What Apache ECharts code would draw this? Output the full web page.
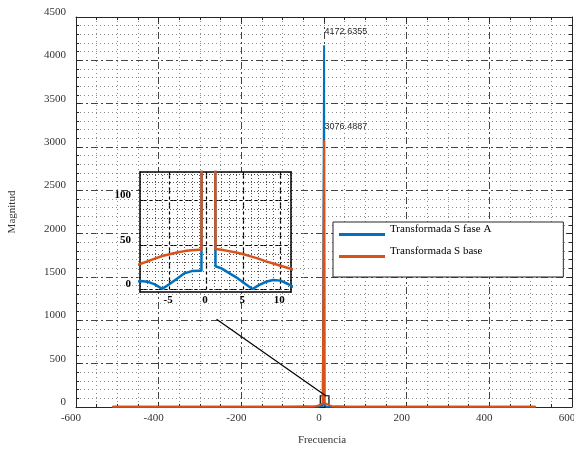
<!DOCTYPE html>
<html><head><meta charset="utf-8">
<script src="https://cdn.jsdelivr.net/npm/echarts@6/dist/echarts.min.js"></script>
<style>html,body{margin:0;padding:0;background:#fff}#c{width:574px;height:450px}</style>
</head><body><div id="c"></div>
<script>
// Frequency samples (Hz)
const freq = [-512,-400,-300,-200,-100,-50,-30,-20,-15,-13,-12,-11,-10,-9,-8,-7,-6,-5,-4,-3,-2,-1,-0.7,0.25,1.2,2,3,4,5,6.2,7,8,9,10,11,12,13,15,20,30,50,100,200,300,400,512];
// "Transformada S fase A"
const faseA = [2,3,2,4,3,5,4,6,5,3,2,5,7.5,9.4,8.6,5.5,0.5,6,12,18,20.5,21,21,4172.6355,26,23.5,18.5,13.5,7.5,0.3,4.5,8.5,10.5,9.8,6,1.5,3,5,4,5,3,3,2,3,2,2];
// "Transformada S base"
const base = [2,2.5,3,3,4,5,7,10,15,18,20,23,25.5,28.5,31.5,34.5,37.5,39.5,41.5,43,44,44.5,44.5,3076.4887,45.5,44.5,43,41.5,39.5,36.5,34.5,31.5,29,26.5,24,21.5,19,15,10,7,5,4,3,3,2.5,2];
const seriesNames = ['Transformada S fase A','Transformada S base'];
// inset ticks
const insetXTicks = [-5,0,5,10];
const insetYTicks = [0,50,100];
const insetYMinor = [0,10,20,30,40,50,60,70,80,90,100,110,120,130];
// zoom rectangle and connector (data coords of main plot)
const zoomBox = [[-9,-3],[12,130]];
const zoomLine = [[-260,1012],[5,127]];

const serif = 'Liberation Serif';
const axisColor = '#262626';
const majorDash = [7,3,2,3];
const pairs = (ys) => freq.map((f,i)=>[f, ys[i]]);
// legend icon: a line drawn in the lower part of the item box (text sits above it)
const legendIcon = 'path://M0,0L0.01,0L0,0.01Z M0,11L46,11L46,14L0,14Z';

const chart = echarts.init(document.getElementById('c'));
const mainTick = {show:true, inside:true, length:5, lineStyle:{color:axisColor}};
const mainMinorTick = (n)=>({show:true, splitNumber:n, length:3, lineStyle:{color:axisColor}});
const mainLine = {show:true, onZero:false, lineStyle:{color:axisColor, width:1}};
const insetLine = {show:true, onZero:false, lineStyle:{color:'#000', width:1.5}};
const peakLabel = {show:true, position:[1,-18], align:'left', verticalAlign:'top', fontFamily:'Liberation Sans', fontSize:9, color:'#262626',
  formatter:(p)=>Number(p.value).toFixed(4)};

chart.setOption({
  animation:false,
  backgroundColor:'#fff',
  grid:[
    {left:76, top:17, width:496, height:390, containLabel:false, outerBoundsMode:'none'},
    {left:140, top:172, width:151, height:120, show:true, backgroundColor:'#fff', borderWidth:0, z:3, outerBoundsMode:'none'}
  ],
  legend:{
    data:seriesNames, left:333, top:222, orient:'vertical', icon:legendIcon,
    itemWidth:46, itemHeight:14, itemGap:8, itemTextGap:3,
    itemStyle:{borderWidth:0},
    padding:[0,72,19,6], backgroundColor:'#fff', borderColor:axisColor, borderWidth:1, borderRadius:0,
    textStyle:{fontFamily:serif, fontSize:11, color:'#000'}
  },
  xAxis:[
    {gridIndex:0, type:'value', min:-600, max:600, interval:200, position:'bottom',
     axisLine:mainLine, axisTick:mainTick, minorTick:mainMinorTick(4),
     axisLabel:{fontFamily:serif, fontSize:11, color:'#333', margin:6, padding:[0,10,0,0]},
     splitLine:{show:true, lineStyle:{color:'#444', type:majorDash, width:1}},
     minorSplitLine:{show:true, lineStyle:{color:'#8a8a8a', type:[1,3], width:1}},
     name:'Frecuencia', nameLocation:'middle', nameGap:28,
     nameTextStyle:{fontFamily:serif, fontSize:11, color:'#333', padding:[0,4,0,0]}},
    {gridIndex:0, type:'value', min:-600, max:600, interval:200, position:'top',
     axisLine:mainLine, axisTick:mainTick, minorTick:mainMinorTick(4),
     axisLabel:{show:false}, splitLine:{show:false}},
    {gridIndex:1, type:'value', min:-9, max:11.4, position:'bottom', z:4,
     axisLine:insetLine, axisTick:{show:false, customValues:insetXTicks},
     axisLabel:{customValues:insetXTicks, fontFamily:serif, fontWeight:'bold', fontSize:11, color:'#000', margin:3, padding:[0,3,0,0]},
     splitLine:{show:true, lineStyle:{color:'#000', type:majorDash, width:1.2}}},
    {gridIndex:1, type:'value', min:-9, max:11.4, interval:1, position:'top', z:4,
     axisLine:insetLine, axisTick:{show:false}, axisLabel:{show:false},
     splitLine:{show:true, lineStyle:{color:'#555', type:[1,2], width:1}}}
  ],
  yAxis:[
    {gridIndex:0, type:'value', min:0, max:4500, interval:500, position:'left',
     axisLine:mainLine, axisTick:mainTick, minorTick:mainMinorTick(5),
     axisLabel:{fontFamily:serif, fontSize:11, color:'#333', margin:10, verticalAlign:'bottom', lineHeight:10,
       formatter:(v)=>String(v)},
     splitLine:{show:true, lineStyle:{color:'#444', type:majorDash, width:1}},
     minorSplitLine:{show:true, lineStyle:{color:'#8a8a8a', type:[1,3], width:1}},
     name:'Magnitud', nameLocation:'middle', nameGap:58,
     nameTextStyle:{fontFamily:serif, fontSize:11, color:'#333'}},
    {gridIndex:0, type:'value', min:0, max:4500, interval:500, position:'right',
     axisLine:mainLine, axisTick:mainTick, minorTick:mainMinorTick(5),
     axisLabel:{show:false}, splitLine:{show:false}},
    {gridIndex:1, type:'value', min:-3, max:132, position:'left', z:4,
     axisLine:insetLine, axisTick:{show:false, customValues:insetYTicks},
     axisLabel:{customValues:insetYTicks, fontFamily:serif, fontWeight:'bold', fontSize:11, color:'#000', margin:9, verticalAlign:'bottom', lineHeight:10},
     splitLine:{show:true, lineStyle:{color:'#000', type:majorDash, width:1.2}}},
    {gridIndex:1, type:'value', min:-3, max:132, position:'right', z:4,
     axisLine:insetLine, axisTick:{show:false, customValues:insetYMinor}, axisLabel:{show:false},
     splitLine:{show:true, lineStyle:{color:'#555', type:[1,2], width:1}}}
  ],
  series:[
    {name:seriesNames[0], type:'line', xAxisIndex:0, yAxisIndex:0, data:pairs(faseA),
     showSymbol:false, symbol:'none', lineStyle:{color:'#0072BD', width:2}, itemStyle:{color:'#0072BD'}, z:2,
     markPoint:{symbol:'circle', symbolSize:1, itemStyle:{color:'rgba(0,0,0,0)'}, label:peakLabel,
       data:[{type:'max', valueDim:'y'}]}},
    {name:seriesNames[1], type:'line', xAxisIndex:0, yAxisIndex:0, data:pairs(base),
     showSymbol:false, symbol:'none', lineStyle:{color:'#D95319', width:2}, itemStyle:{color:'#D95319'}, z:2,
     markPoint:{symbol:'circle', symbolSize:1, itemStyle:{color:'rgba(0,0,0,0)'}, label:peakLabel,
       data:[{type:'max', valueDim:'y'}]},
     markLine:{silent:true, symbol:['none','none'], label:{show:false}, lineStyle:{color:'#000', width:1.2, type:'solid'},
       data:[[{coord:zoomLine[0]},{coord:zoomLine[1]}]]},
     markArea:{silent:true, itemStyle:{color:'rgba(0,0,0,0)', borderColor:'#000', borderWidth:1.2},
       data:[[{coord:zoomBox[0]},{coord:zoomBox[1]}]]}},
    {name:seriesNames[0], type:'line', xAxisIndex:2, yAxisIndex:2, data:pairs(faseA), clip:true,
     showSymbol:false, symbol:'none', lineStyle:{color:'#0072BD', width:2.5}, itemStyle:{color:'#0072BD'}, z:5},
    {name:seriesNames[1], type:'line', xAxisIndex:2, yAxisIndex:2, data:pairs(base), clip:true,
     showSymbol:false, symbol:'none', lineStyle:{color:'#D95319', width:2.5}, itemStyle:{color:'#D95319'}, z:5}
  ]
});
</script></body></html>
